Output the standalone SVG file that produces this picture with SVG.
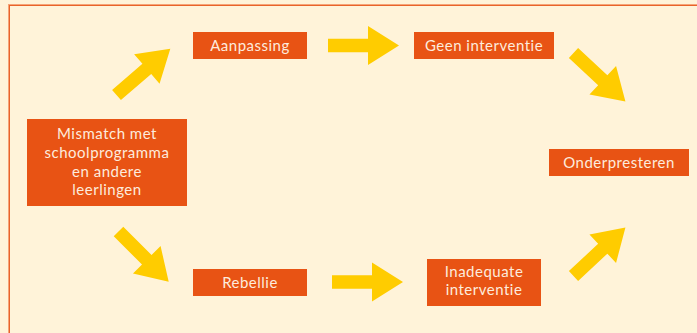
<svg xmlns="http://www.w3.org/2000/svg" width="697" height="333" viewBox="0 0 697 333">
<defs>
<style>
.box{fill:#E85314}
.t{fill:#FDEBDD;font-family:Lato,"Noto Sans",sans-serif;font-size:15px;letter-spacing:0.5px;text-anchor:middle}
.arr{fill:#FFCC00}
</style>
<path id="a" d="M0,-6.75 L40,-6.75 L40,-19.5 L71,0 L40,19.5 L40,6.75 L0,6.75 Z"/>
</defs>
<rect width="697" height="333" fill="#FFF3D9"/>
<rect x="8.5" y="4.5" width="700" height="340" fill="none" stroke="#F5A478" stroke-width="1"/>
<rect x="9.5" y="5.5" width="700" height="340" fill="none" stroke="#E8632A" stroke-width="1"/>
<g id="connectors" class="arr">
<use href="#a" transform="translate(116.5,95) rotate(-40.7)"/>
<use href="#a" transform="translate(328,45.5)"/>
<use href="#a" transform="translate(573.5,53) rotate(43)"/>
<use href="#a" transform="translate(118.5,231.5) rotate(45)"/>
<use href="#a" transform="translate(332,282)"/>
<use href="#a" transform="translate(573.5,276) rotate(-43)"/>
</g>
<g id="mismatch"><rect class="box" x="27" y="119" width="160" height="87"/>
<text class="t"><tspan x="107" y="139">Mismatch met</tspan><tspan x="107" y="158">schoolprogramma</tspan><tspan x="107" y="176.5">en andere</tspan><tspan x="107" y="195">leerlingen</tspan></text></g>
<g id="aanpassing"><rect class="box" x="193" y="32" width="114" height="27"/><text class="t" x="250" y="51">Aanpassing</text></g>
<g id="geen"><rect class="box" x="414" y="32" width="140" height="27"/><text class="t" x="484" y="51">Geen interventie</text></g>
<g id="onderpresteren"><rect class="box" x="549" y="149" width="140" height="27"/><text class="t" x="619" y="168">Onderpresteren</text></g>
<g id="rebellie"><rect class="box" x="193" y="269" width="114" height="27"/><text class="t" x="250" y="288">Rebellie</text></g>
<g id="inadequate"><rect class="box" x="427" y="259" width="114" height="47"/>
<text class="t"><tspan x="484" y="276.5">Inadequate</tspan><tspan x="484" y="295">interventie</tspan></text></g>
</svg>
